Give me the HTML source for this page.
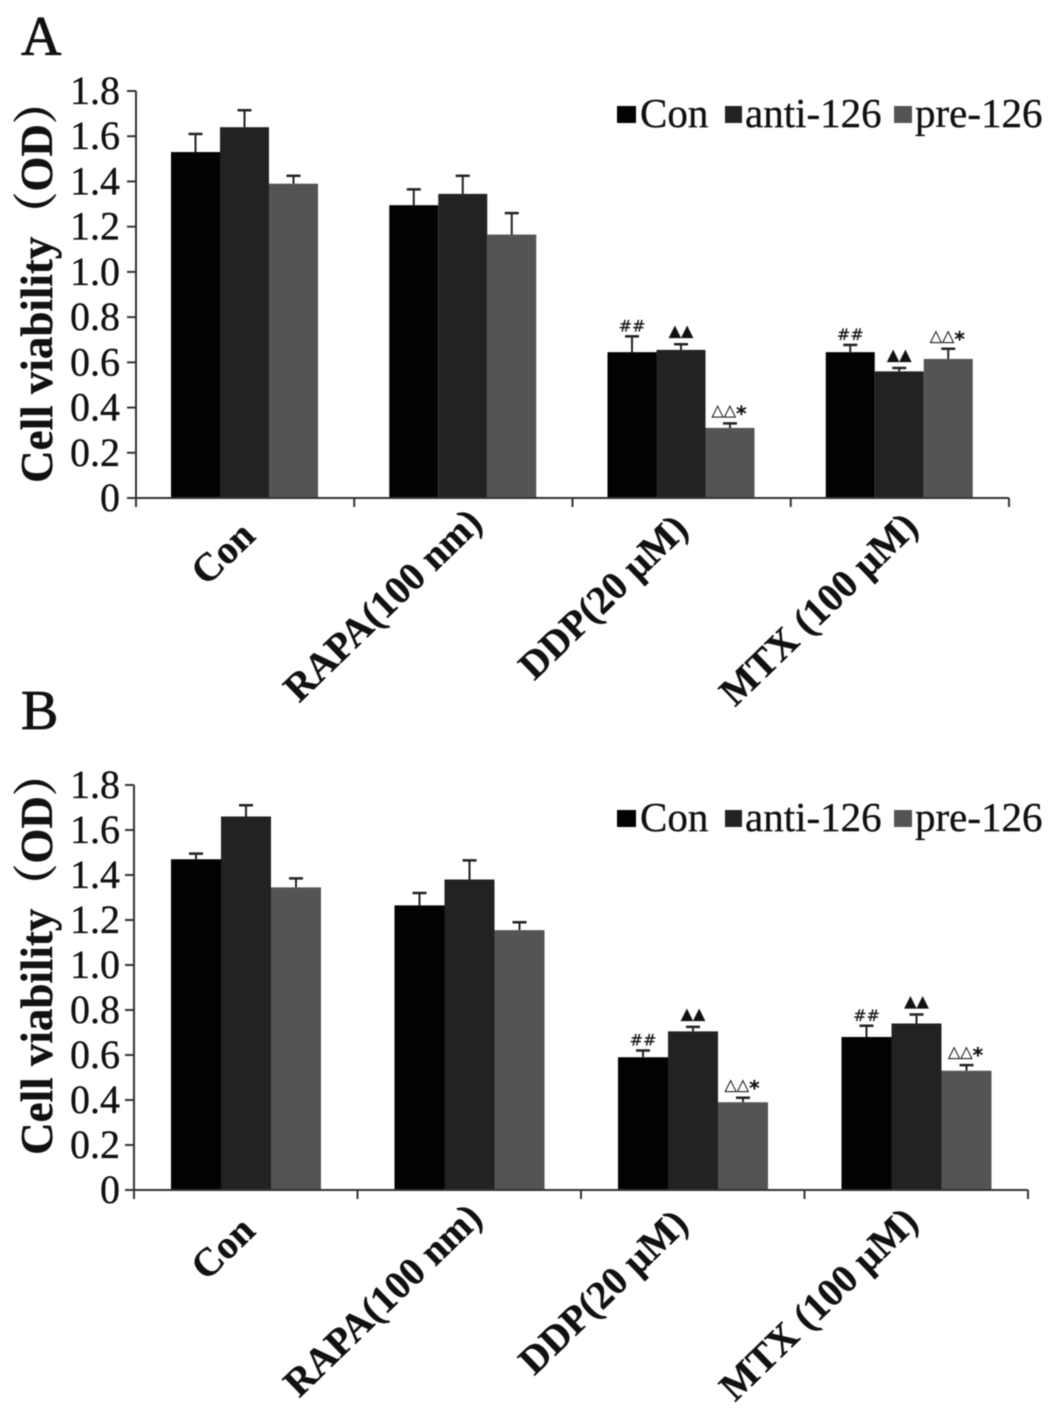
<!DOCTYPE html>
<html>
<head>
<meta charset="utf-8">
<title>Cell viability charts</title>
<style>
html,body{margin:0;padding:0;background:#fff;width:1063px;height:1417px;overflow:hidden}
svg{display:block;filter:blur(0.4px)}
text{font-family:"Liberation Serif","Noto Serif CJK SC",serif;fill:#111;stroke:#111;stroke-width:0.35px}
</style>
</head>
<body>
<svg id="figure" xmlns="http://www.w3.org/2000/svg" width="1063" height="1417" viewBox="0 0 1063 1417"></svg>
<script>
var categories = ["Con", "RAPA(100 nm)", "DDP(20 μM)", "MTX (100 μM)"];
var seriesNames = ["Con", "anti-126", "pre-126"];
var tickLabels = ["0", "0.2", "0.4", "0.6", "0.8", "1.0", "1.2", "1.4", "1.6", "1.8"];
var tickValues = [0, 0.2, 0.4, 0.6, 0.8, 1.0, 1.2, 1.4, 1.6, 1.8];

var panelAValues = [
  [1.53, 1.295, 0.645, 0.645],
  [1.64, 1.345, 0.655, 0.56],
  [1.39, 1.165, 0.31, 0.615]
];
var panelAErrorTops = [
  [1.61, 1.365, 0.715, 0.677],
  [1.715, 1.425, 0.68, 0.575],
  [1.425, 1.26, 0.33, 0.66]
];
var panelBValues = [
  [1.47, 1.265, 0.59, 0.68],
  [1.66, 1.38, 0.705, 0.74],
  [1.345, 1.155, 0.39, 0.53]
];
var panelBErrorTops = [
  [1.495, 1.32, 0.62, 0.73],
  [1.71, 1.465, 0.725, 0.78],
  [1.385, 1.19, 0.41, 0.555]
];
var significance = [
  ["", "", "##", "##"],
  ["", "", "▲▲", "▲▲"],
  ["", "", "△△*", "△△*"]
];

var seriesColors = ["#020202", "#222222", "#545454"];
var svg = document.getElementById("figure");
var NS = "http://www.w3.org/2000/svg";

function el(tag, attrs, parent, txt) {
  var n = document.createElementNS(NS, tag);
  for (var k in attrs) n.setAttribute(k, attrs[k]);
  if (txt !== undefined) n.textContent = txt;
  parent.appendChild(n);
  return n;
}

function drawPanel(cfg) {
  var g = el("g", {}, svg);
  
  

  function yScale(v) { return cfg.y0 - (v / 1.8) * (cfg.y0 - cfg.yTop); }
  function bandX(i) { return cfg.xLeft + i * (cfg.xRight - cfg.xLeft) / categories.length; }
  function barX(c, s) { return bandX(c) + cfg.barOffset + s * cfg.barW; }

  var letter = el("text", {x: cfg.letterX, y: cfg.letterY, "font-size": 56, style: "stroke-width:0.8px"}, g, cfg.letter);
  
  

  // bars and error bars
  cfg.values.forEach(function (row, s) {
    row.forEach(function (v, c) {
      var x = barX(c, s), top = yScale(v), cx = x + cfg.barW / 2, et = yScale(cfg.errs[s][c]);
      var stem = el("line", {x1: cx, x2: cx, y1: top, y2: et, stroke: "#222", "stroke-width": 2}, g);
      
      
      var cap = el("line", {x1: cx - 7, x2: cx + 7, y1: et, y2: et, stroke: "#222", "stroke-width": 2.5}, g);
      
      
      var bar = el("rect", {x: x, y: top, width: cfg.barW, height: cfg.y0 - top, fill: seriesColors[s]}, g);
      
      
      var mark = significance[s][c];
      if (mark) {
        var dy = mark === "##" ? 5 : 8;
        var hasStar = mark.charAt(mark.length - 1) === "*";
        var m = el("text", {x: cx - (hasStar ? 1 : 0), y: et - dy, "text-anchor": "middle", "font-size": 16, style: "font-family:'DejaVu Sans',sans-serif;stroke-width:0.2px"}, g, hasStar ? mark.slice(0, -1) : mark);
        if (hasStar) {
          var star = el("tspan", {dy: 5, "font-size": 20, "font-weight": "bold"}, m, "*");
        }
        
        
      }
    });
  });

  // axes
  var yAxis = el("line", {x1: cfg.xLeft, x2: cfg.xLeft, y1: cfg.yTop, y2: cfg.y0 + 9, stroke: "#333", "stroke-width": 2}, g);
  
  
  var xAxis = el("line", {x1: cfg.xLeft - 9, x2: cfg.xRight, y1: cfg.y0, y2: cfg.y0, stroke: "#333", "stroke-width": 2}, g);
  
  

  tickValues.forEach(function (v, i) {
    var y = yScale(v);
    var t = el("line", {x1: cfg.xLeft - 9, x2: cfg.xLeft, y1: y, y2: y, stroke: "#333", "stroke-width": 2}, g);
    
    
    var l = el("text", {x: 120, y: y + 13, "text-anchor": "end", "font-size": 40}, g, tickLabels[i]);
    
    
  });

  for (var i = 0; i <= categories.length; i++) {
    var tk = el("line", {x1: bandX(i), x2: bandX(i), y1: cfg.y0, y2: cfg.y0 + 9, stroke: "#333", "stroke-width": 2}, g);
    
    
  }

  var labelEndX = [257, 484, 690, 920];
  var labelDrop = [40, 27, 33, 31];
  categories.forEach(function (name, c) {
    var cx = labelEndX[c];
    var cy = cfg.labelBase + labelDrop[c];
    var lb = el("text", {x: cx, y: cy, "text-anchor": "end", "font-size": 39.5, "font-weight": "bold", transform: "rotate(-44 " + cx + " " + cy + ")"}, g, name);
    
    
  });

  var yt = el("text", {x: 52, y: cfg.titleY, "text-anchor": "middle", "font-size": 45, "font-weight": "bold", transform: "rotate(-90 52 " + cfg.titleY + ")"}, g, "Cell viability（OD）");
  
  

  // legend
  var squareX = [617, 725, 894];
  var squareW = [19, 17, 18];
  var textX = [640, 745, 915];
  seriesNames.forEach(function (name, s) {
    var sq = el("rect", {x: squareX[s], y: cfg.legendY - 21, width: squareW[s], height: 17, fill: seriesColors[s]}, g);
    
    
    var tx = el("text", {x: textX[s], y: cfg.legendY, "font-size": 41}, g, name);
    
    
  });
}

drawPanel({letter: "A", letterX: 21, letterY: 55, y0: 498, yTop: 91, xLeft: 136, xRight: 1009, barOffset: 35, barW: 49,
  values: panelAValues, errs: panelAErrorTops, titleY: 281, legendY: 127, labelBase: 498});
drawPanel({letter: "B", letterX: 21, letterY: 729, y0: 1190, yTop: 785, xLeft: 134, xRight: 1028, barOffset: 37, barW: 50,
  values: panelBValues, errs: panelBErrorTops, titleY: 953, legendY: 831, labelBase: 1193});
</script>
</body>
</html>
